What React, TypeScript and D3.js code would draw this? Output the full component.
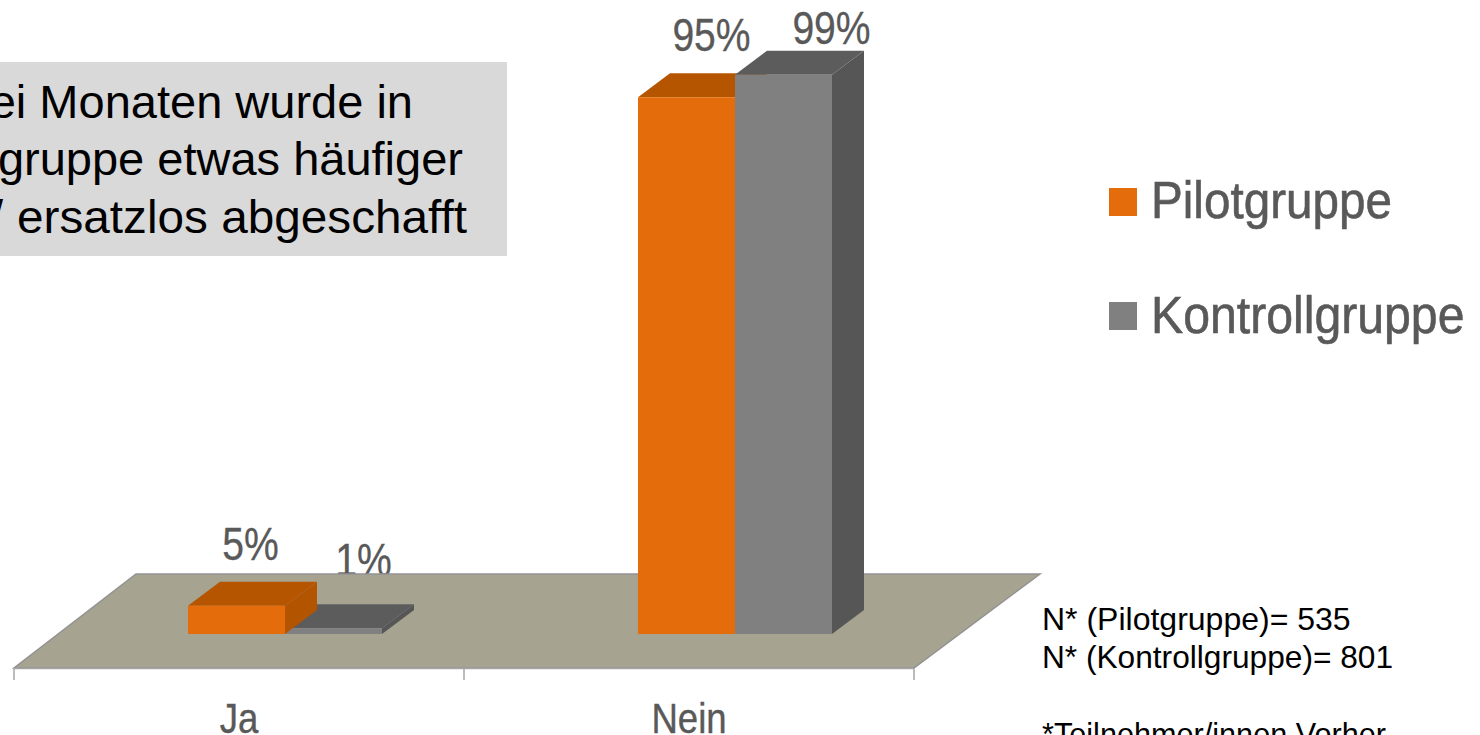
import React from "react";
import * as d3 from "d3";

const categories = ["Ja", "Nein"];
const seriesNames = ["Pilotgruppe", "Kontrollgruppe"];
const pilotValues = [5, 95];
const kontrollValues = [1, 99];
const valueLabels = [["5%", "95%"], ["1%", "99%"]];
const boxLines = ["ei Monaten wurde in", "gruppe etwas häufiger", "ersatzlos abgeschafft"];
const noteLines = ["N* (Pilotgruppe)= 535", "N* (Kontrollgruppe)= 801", "", "*Teilnehmer/innen Vorher"];

const W = 1480, H = 735;
const DX = 32, DY = 24;
const colors = [
  { front: "#e46c0a", top: "#b65500", side: "#b35400" },
  { front: "#808080", top: "#5c5c5c", side: "#565656" },
];
// hand-placed label nudges, relative to bar front centre / top
const nudge = [
  [[14, -46], [25, -46]],
  [[30, -52], [48, -31]],
];

const sans = "'Liberation Sans',Arial,sans-serif";

const x0 = d3.scaleBand<string>().domain(categories).range([14, 914]);
const x1 = d3.scaleBand<string>().domain(seriesNames).range([174, 368]);
const y = d3.scaleLinear().domain([0, 100]).range([634, 69]);
const poly = d3.line();

export default function App() {
  const floorPts: [number, number][] = [[14, 668], [914, 668], [1040, 574], [136, 574]];
  const values = [pilotValues, kontrollValues];
  return (
    <svg width={W} height={H} viewBox={`0 0 ${W} ${H}`} style={{ position: "absolute", left: 0, top: 0, background: "#fff" }}>
      <rect x={-2} y={62} width={509} height={194} fill="#d9d9d9" />
      <g fontFamily={sans} fontSize={47} fill="#000" textAnchor="end">
        <text x={413} y={118}>{boxLines[0]}</text>
        <text x={463} y={175}>{boxLines[1]}</text>
        <text x={3} y={233}>/</text>
      </g>
      <text x={17} y={233} fontFamily={sans} fontSize={47} fill="#000" textLength={450} lengthAdjust="spacingAndGlyphs">{boxLines[2]}</text>

      {/* labels that sit behind the floor */}
      <g fontFamily={sans} fontSize={46} fill="#595959" stroke="#595959" strokeWidth={0.3} textAnchor="middle">
        {seriesNames.map((s, si) =>
          categories.map((c, ci) => {
            const bx = x0(c)! + x1(s)! + x1.bandwidth() / 2;
            const lx = bx + nudge[si][ci][0];
            const ly = y(values[si][ci]) + nudge[si][ci][1];
            return (
              <text key={s + c} transform={`translate(${lx},${ly}) scale(0.85,1)`}>
                {valueLabels[si][ci]}
              </text>
            );
          })
        )}
      </g>

      <path d={poly(floorPts)! + "Z"} fill="#a6a390" stroke="#929292" strokeWidth={1.5} />
      <g stroke="#a6a6a6" strokeWidth={1.5} fill="none">
        <line x1={14} x2={914} y1={668.5} y2={668.5} />
        {[...categories.map((c) => x0(c)!), x0.range()[1]].map((t) => (
          <line key={t} x1={t} x2={t} y1={668} y2={680} />
        ))}
      </g>

      {categories.map((c, ci) =>
        seriesNames
          .map((s, si) => ({ s, si }))
          .sort((a, b) => values[a.si][ci] - values[b.si][ci])
          .map(({ s, si }) => {
            const xl = x0(c)! + x1(s)!;
            const xr = xl + x1.bandwidth();
            const yb = y(0);
            const yt = y(values[si][ci]);
            const col = colors[si];
            return (
              <g key={s + c}>
                <path d={poly([[xr, yb], [xr + DX, yb - DY], [xr + DX, yt - DY], [xr, yt]])! + "Z"} fill={col.side} />
                <path d={poly([[xl, yt], [xl + DX, yt - DY], [xr + DX, yt - DY], [xr, yt]])! + "Z"} fill={col.top} />
                <rect x={xl} y={yt} width={xr - xl} height={yb - yt} fill={col.front} />
              </g>
            );
          })
      )}

      <g fontFamily={sans} fontSize={42} fill="#595959" stroke="#595959" strokeWidth={0.4} textAnchor="middle">
        {categories.map((c) => (
          <text key={c} transform={`translate(${x0(c)! + x0.bandwidth() / 2},733) scale(0.87,1)`}>{c}</text>
        ))}
      </g>

      <rect x={1109} y={188} width={28} height={28} fill={colors[0].front} />
      <rect x={1109} y={302} width={28} height={28} fill={colors[1].front} />
      <g fontFamily={sans} fontSize={52} fill="#595959" stroke="#595959" strokeWidth={0.6}>
        <text transform="translate(1151,218) scale(0.916,1)">{seriesNames[0]}</text>
        <text transform="translate(1151,333) scale(0.927,1)">{seriesNames[1]}</text>
      </g>

      <g fontFamily={sans} fontSize={32} fill="#000">
        <text x={1042} y={630}>{noteLines[0]}</text>
        <text x={1042} y={668} textLength={351} lengthAdjust="spacingAndGlyphs">{noteLines[1]}</text>
        <text x={1042} y={745} textLength={344} lengthAdjust="spacingAndGlyphs">{noteLines[3]}</text>
      </g>
    </svg>
  );
}
